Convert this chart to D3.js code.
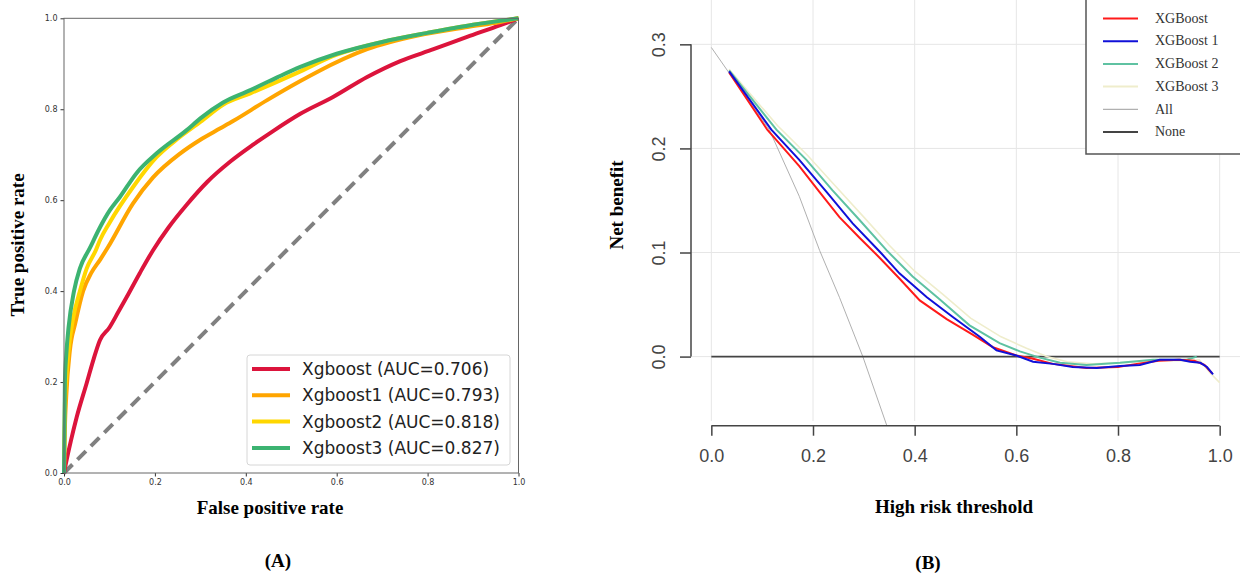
<!DOCTYPE html>
<meta charset="utf-8">
<style>
    body { margin: 0; background: #fff; }
    .roc-tick text { font: 8px "DejaVu Sans", sans-serif; fill: #333; }
    .dca-tick text { font: 18px "Liberation Sans", Arial, sans-serif; fill: #444; }
    .title { font-family: "Liberation Serif", "Times New Roman", serif; font-weight: bold; font-size: 19px; fill: #000; }
</style>

<body>
    <script src="https://cdn.jsdelivr.net/npm/d3@7"></script>
    <script>
        // ---- panel A: ROC curves ----
        var rocNames = ["Xgboost (AUC=0.706)", "Xgboost1 (AUC=0.793)", "Xgboost2 (AUC=0.818)", "Xgboost3 (AUC=0.827)"]
        var rocColors = ["#dc143c", "#ffa500", "#ffd700", "#3cb371"]

        var fpr0 = [0, 0.004, 0.015, 0.028, 0.05, 0.065, 0.079, 0.1, 0.12, 0.138, 0.167, 0.196, 0.23, 0.27, 0.315, 0.366, 0.416, 0.46, 0.52, 0.592, 0.667, 0.74, 0.813, 0.887, 0.96, 1]
        var tpr0 = [0, 0.02, 0.07, 0.123, 0.198, 0.25, 0.292, 0.32, 0.355, 0.387, 0.44, 0.49, 0.54, 0.59, 0.64, 0.685, 0.722, 0.752, 0.79, 0.827, 0.871, 0.906, 0.932, 0.959, 0.985, 1]
        var fpr1 = [0, 0.002, 0.005, 0.013, 0.025, 0.042, 0.06, 0.08, 0.097, 0.152, 0.196, 0.256, 0.30, 0.344, 0.372, 0.447, 0.52, 0.557, 0.667, 0.778, 0.888, 0.96, 1]
        var tpr1 = [0, 0.1, 0.17, 0.27, 0.33, 0.4, 0.44, 0.47, 0.497, 0.593, 0.65, 0.703, 0.733, 0.758, 0.774, 0.82, 0.862, 0.882, 0.932, 0.962, 0.981, 0.992, 1]
        var fpr2 = [0, 0.002, 0.005, 0.01, 0.02, 0.035, 0.05, 0.07, 0.079, 0.1, 0.152, 0.204, 0.25, 0.3, 0.35, 0.41, 0.513, 0.6, 0.7, 0.8, 0.9, 1]
        var tpr2 = [0, 0.15, 0.21, 0.27, 0.34, 0.4, 0.45, 0.49, 0.512, 0.55, 0.629, 0.695, 0.735, 0.772, 0.81, 0.835, 0.88, 0.92, 0.948, 0.968, 0.986, 1]
        var fpr3 = [0, 0.002, 0.005, 0.01, 0.022, 0.035, 0.057, 0.079, 0.101, 0.123, 0.16, 0.204, 0.27, 0.30, 0.35, 0.41, 0.469, 0.52, 0.6, 0.7, 0.8, 0.9, 1]
        var tpr3 = [0, 0.2, 0.26, 0.32, 0.4, 0.45, 0.495, 0.54, 0.578, 0.607, 0.66, 0.703, 0.754, 0.78, 0.815, 0.842, 0.87, 0.893, 0.922, 0.948, 0.968, 0.986, 1]
        var rocTicks = [0, 0.2, 0.4, 0.6, 0.8, 1.0]

        // ---- panel B: decision curves ----
        var dcaNames = ["XGBoost", "XGBoost 1", "XGBoost 2", "XGBoost 3", "All", "None"]
        var dcaColors = ["#ff1a1a", "#1010d8", "#5fc2a2", "#efedcc", "#b0b0b0", "#444"]

        var thr0 = [0.035, 0.11, 0.148, 0.173, 0.213, 0.252, 0.292, 0.331, 0.37, 0.41, 0.463, 0.514, 0.554, 0.60, 0.633, 0.672, 0.738, 0.80, 0.837, 0.88, 0.92, 0.95, 0.97, 0.985]
        var nb0 = [0.273, 0.218, 0.197, 0.183, 0.158, 0.134, 0.114, 0.095, 0.075, 0.054, 0.036, 0.021, 0.009, 0.001, -0.002, -0.007, -0.011, -0.010, -0.007, -0.004, -0.003, -0.004, -0.008, -0.016]
        var thr1 = [0.035, 0.118, 0.173, 0.227, 0.278, 0.331, 0.37, 0.424, 0.475, 0.528, 0.561, 0.60, 0.633, 0.672, 0.711, 0.758, 0.804, 0.843, 0.882, 0.922, 0.942, 0.962, 0.975, 0.987]
        var nb1 = [0.274, 0.218, 0.189, 0.158, 0.128, 0.101, 0.080, 0.057, 0.038, 0.019, 0.006, 0.001, -0.005, -0.007, -0.010, -0.011, -0.009, -0.008, -0.003, -0.003, -0.005, -0.006, -0.010, -0.017]
        var thr2 = [0.035, 0.128, 0.187, 0.238, 0.292, 0.345, 0.396, 0.449, 0.508, 0.567, 0.607, 0.646, 0.686, 0.738, 0.804, 0.869, 0.935, 0.955]
        var nb2 = [0.275, 0.218, 0.189, 0.160, 0.131, 0.102, 0.077, 0.055, 0.030, 0.013, 0.005, -0.001, -0.006, -0.008, -0.006, -0.003, -0.003, 0]
        var thr3 = [0.035, 0.13, 0.19, 0.24, 0.30, 0.35, 0.40, 0.455, 0.51, 0.57, 0.62, 0.66, 0.70, 0.75, 0.80, 0.87, 0.93, 0.96, 0.98, 1.0]
        var nb3 = [0.276, 0.222, 0.193, 0.166, 0.134, 0.107, 0.082, 0.060, 0.037, 0.019, 0.008, 0.0, -0.005, -0.007, -0.006, -0.004, -0.004, -0.003, -0.015, -0.025]
        var thrAll = [0, 0.05, 0.114, 0.173, 0.213, 0.252, 0.298, 0.345]
        var nbAll = [0.297, 0.262, 0.218, 0.154, 0.102, 0.057, 0, -0.066]
        var thrNone = [0, 1]
        var nbNone = [0, 0]
        var dcaTicksX = [0, 0.2, 0.4, 0.6, 0.8, 1.0]
        var dcaTicksY = [0, 0.1, 0.2, 0.3]

        function zip(xs, ys) {
            return xs.map(function (x, i) { return [x, ys[i]]; });
        }

        var svg = d3.select("body").append("svg")
            .attr("width", 1240)
            .attr("height", 574);

        // ================= A =================
        var xA = d3.scaleLinear().domain([0, 1]).range([64, 518.5]);
        var yA = d3.scaleLinear().domain([0, 1]).range([473, 18.3]);

        var gA = svg.append("g");

        gA.append("g")
            .attr("class", "roc-tick")
            .attr("transform", "translate(0," + yA(0) + ")")
            .call(d3.axisBottom(xA).tickValues(rocTicks).tickFormat(d3.format(".1f")).tickSize(3.5).tickPadding(3))
            .call(function (g) { g.select(".domain").remove(); g.selectAll("line").attr("stroke", "#333"); });

        gA.append("g")
            .attr("class", "roc-tick")
            .attr("transform", "translate(" + xA(0) + ",0)")
            .call(d3.axisLeft(yA).tickValues(rocTicks).tickFormat(d3.format(".1f")).tickSize(3.5).tickPadding(3))
            .call(function (g) { g.select(".domain").remove(); g.selectAll("line").attr("stroke", "#333"); });

        // chance diagonal
        gA.append("line")
            .attr("x1", xA(0)).attr("y1", yA(0))
            .attr("x2", xA(1)).attr("y2", yA(1))
            .attr("stroke", "#808080")
            .attr("stroke-width", 4)
            .attr("stroke-dasharray", "12,7");

        var rocLine = d3.line()
            .curve(d3.curveMonotoneX)
            .x(function (d) { return xA(d[0]); })
            .y(function (d) { return yA(d[1]); });

        var rocData = [zip(fpr0, tpr0), zip(fpr1, tpr1), zip(fpr2, tpr2), zip(fpr3, tpr3)];

        gA.selectAll(".roc")
            .data(rocData)
            .enter().append("path")
            .attr("class", "roc")
            .attr("fill", "none")
            .attr("stroke", function (d, i) { return rocColors[i]; })
            .attr("stroke-width", 4)
            .attr("stroke-linejoin", "round")
            .attr("d", rocLine);

        // frame
        gA.append("rect")
            .attr("x", xA(0)).attr("y", yA(1))
            .attr("width", xA(1) - xA(0)).attr("height", yA(0) - yA(1))
            .attr("fill", "none")
            .attr("stroke", "#666")
            .attr("stroke-width", 1);

        // legend
        var legA = gA.append("g").attr("transform", "translate(247,355)");
        legA.append("rect")
            .attr("width", 263).attr("height", 110).attr("rx", 3)
            .attr("fill", "#fff").attr("fill-opacity", 0.85)
            .attr("stroke", "#d6d6d6");
        var legARow = legA.selectAll(".row")
            .data(rocNames)
            .enter().append("g")
            .attr("class", "row")
            .attr("transform", function (d, i) { return "translate(0," + (14 + i * 26.3) + ")"; });
        legARow.append("line")
            .attr("x1", 5).attr("x2", 43)
            .attr("stroke", function (d, i) { return rocColors[i]; })
            .attr("stroke-width", 4);
        legARow.append("text")
            .attr("x", 55).attr("dy", "0.35em")
            .style("font", "17px 'DejaVu Sans', sans-serif")
            .attr("fill", "#222")
            .text(function (d) { return d; });

        gA.append("text")
            .attr("class", "title")
            .attr("transform", "translate(24,245) rotate(-90)")
            .attr("text-anchor", "middle")
            .text("True positive rate");
        gA.append("text")
            .attr("class", "title")
            .attr("x", 270).attr("y", 514)
            .attr("text-anchor", "middle")
            .text("False positive rate");
        gA.append("text")
            .attr("class", "title")
            .attr("x", 278).attr("y", 567)
            .attr("text-anchor", "middle")
            .text("(A)");

        // ================= B =================
        var xB = d3.scaleLinear().domain([-0.04, 1.04]).range([691, 1240]);
        var yB = d3.scaleLinear().domain([-0.0664, 0.3426]).range([425.7, 0]);

        var gB = svg.append("g");

        svg.append("clipPath").attr("id", "clipB")
            .append("rect")
            .attr("x", 691).attr("y", 0)
            .attr("width", 549).attr("height", 425.7);

        // grid
        gB.selectAll(".vgrid")
            .data(dcaTicksX)
            .enter().append("line")
            .attr("x1", function (d) { return xB(d); }).attr("x2", function (d) { return xB(d); })
            .attr("y1", 0).attr("y2", 421)
            .attr("stroke", "#e6e6e6");
        gB.selectAll(".hgrid")
            .data(dcaTicksY)
            .enter().append("line")
            .attr("x1", 691).attr("x2", 1240)
            .attr("y1", function (d) { return yB(d); }).attr("y2", function (d) { return yB(d); })
            .attr("stroke", "#e6e6e6");

        var dcaLine = d3.line()
            .x(function (d) { return xB(d[0]); })
            .y(function (d) { return yB(d[1]); });

        var dcaData = [zip(thr0, nb0), zip(thr1, nb1), zip(thr2, nb2), zip(thr3, nb3), zip(thrAll, nbAll), zip(thrNone, nbNone)];
        var dcaWidth = [2, 2, 2, 1.6, 1, 1.6];
        var drawOrder = [4, 5, 3, 2, 0, 1];

        gB.append("g")
            .attr("clip-path", "url(#clipB)")
            .selectAll("path")
            .data(drawOrder)
            .enter().append("path")
            .attr("fill", "none")
            .attr("stroke", function (i) { return dcaColors[i]; })
            .attr("stroke-width", function (i) { return dcaWidth[i]; })
            .attr("d", function (i) { return dcaLine(dcaData[i]); });

        // axes, R style: line spans the tick range only
        var axB = gB.append("g")
            .attr("class", "dca-tick")
            .attr("transform", "translate(0,425.7)")
            .call(d3.axisBottom(xB).tickValues(dcaTicksX).tickFormat(d3.format(".1f")).tickSize(10).tickPadding(14))
            .call(function (g) { g.select(".domain").remove(); g.selectAll("line").attr("stroke", "#444").attr("stroke-width", 1.5); });
        axB.append("line")
            .attr("x1", xB(0)).attr("x2", xB(1))
            .attr("stroke", "#444").attr("stroke-width", 1.5);

        var ayB = gB.append("g")
            .attr("class", "dca-tick")
            .attr("transform", "translate(691,0)")
            .call(d3.axisLeft(yB).tickValues(dcaTicksY).tickFormat(d3.format(".1f")).tickSize(11))
            .call(function (g) { g.select(".domain").remove(); g.selectAll("line").attr("stroke", "#444").attr("stroke-width", 1.5); });
        ayB.selectAll("text")
            .attr("x", 0).attr("dy", 0)
            .attr("text-anchor", "middle")
            .attr("transform", "translate(-26,0) rotate(-90)");
        ayB.append("line")
            .attr("y1", yB(0)).attr("y2", yB(0.3))
            .attr("stroke", "#444").attr("stroke-width", 1.5);

        // legend
        var legB = gB.append("g").attr("transform", "translate(1086,0)");
        legB.append("rect")
            .attr("x", 0).attr("y", -3)
            .attr("width", 160).attr("height", 157)
            .attr("fill", "#fff")
            .attr("stroke", "#555").attr("stroke-width", 1.5);
        var legBRow = legB.selectAll(".row")
            .data(dcaNames)
            .enter().append("g")
            .attr("class", "row")
            .attr("transform", function (d, i) { return "translate(0," + (18.5 + i * 22.7) + ")"; });
        legBRow.append("line")
            .attr("x1", 17).attr("x2", 52)
            .attr("stroke", function (d, i) { return dcaColors[i]; })
            .attr("stroke-width", function (d, i) { return i == 4 ? 1.2 : 2; });
        legBRow.append("text")
            .attr("x", 69).attr("dy", "0.3em")
            .style("font", "14px 'Liberation Serif', serif")
            .attr("fill", "#333")
            .text(function (d) { return d; });

        gB.append("text")
            .attr("class", "title")
            .attr("transform", "translate(623,205) rotate(-90)")
            .attr("text-anchor", "middle")
            .text("Net benefit");
        gB.append("text")
            .attr("class", "title")
            .attr("x", 954).attr("y", 513)
            .attr("text-anchor", "middle")
            .text("High risk threshold");
        gB.append("text")
            .attr("class", "title")
            .attr("x", 928).attr("y", 569)
            .attr("text-anchor", "middle")
            .text("(B)");
    </script>
</body>
